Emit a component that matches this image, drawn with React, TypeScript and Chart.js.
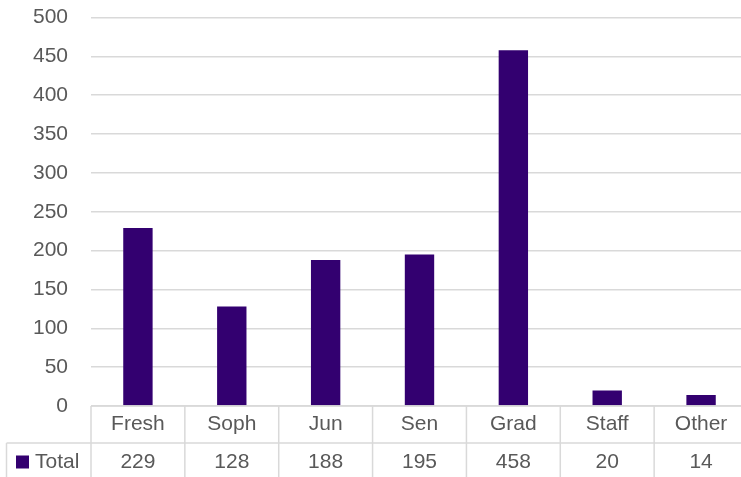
import { useEffect, useRef } from "react";
import { Chart, registerables } from "chart.js";

Chart.register(...registerables);

// Enrollment counts by class standing
const categories = ["Fresh", "Soph", "Jun", "Sen", "Grad", "Staff", "Other"];
const totals = [229, 128, 188, 195, 458, 20, 14];
const seriesName = "Total";

// Value axis range
const yMin = 0;
const yMax = 500;
const yStep = 50;

const FONT = "'Liberation Sans', Arial, sans-serif";
const FONT_SIZE = 21;
const TEXT = "#595959";
const GRID = "#d9d9d9";
const BAR = "#330070";

// Draws the data table (category row + values row with legend key) under the plot
const dataTablePlugin = {
  id: "dataTable",
  afterDraw(chart: any) {
    const { ctx, chartArea, scales } = chart;
    const x = scales.x;
    const n = categories.length;
    const w = (chartArea.right - chartArea.left) / n;
    const top = chartArea.bottom;
    const rowH = 37;
    const mid = top + rowH;
    const bottom = chart.height;
    const labelLeft = 6.5;

    ctx.save();
    ctx.strokeStyle = GRID;
    ctx.lineWidth = 1.5;
    ctx.beginPath();
    ctx.moveTo(chartArea.left, top);
    ctx.lineTo(chartArea.right, top);
    ctx.moveTo(labelLeft, mid);
    ctx.lineTo(chartArea.right, mid);
    ctx.moveTo(labelLeft, mid);
    ctx.lineTo(labelLeft, bottom);
    for (let i = 0; i <= n; i++) {
      const bx = chartArea.left + i * w;
      ctx.moveTo(bx, top);
      ctx.lineTo(bx, bottom);
    }
    ctx.stroke();

    ctx.fillStyle = TEXT;
    ctx.font = `${FONT_SIZE}px ${FONT}`;
    ctx.textAlign = "center";
    ctx.textBaseline = "middle";
    categories.forEach((c, i) => {
      const cx = x.getPixelForValue(i);
      ctx.fillText(c, cx, top + rowH / 2);
      ctx.fillText(String(totals[i]), cx, mid + 19);
    });

    // legend key for the series row
    ctx.fillStyle = BAR;
    ctx.fillRect(16, mid + 12.5, 13, 13);
    ctx.fillStyle = TEXT;
    ctx.textAlign = "left";
    ctx.fillText(seriesName, 35, mid + 19);
    ctx.restore();
  },
};

export default function App() {
  const ref = useRef<HTMLCanvasElement | null>(null);

  useEffect(() => {
    if (!ref.current) return;
    const chart = new Chart(ref.current, {
      type: "bar",
      data: {
        labels: categories,
        datasets: [
          {
            label: seriesName,
            data: totals,
            backgroundColor: BAR,
            barPercentage: 0.313,
            categoryPercentage: 1,
          },
        ],
      },
      options: {
        responsive: false,
        animation: false,
        devicePixelRatio: 1,
        layout: { padding: { top: 17.5, bottom: 71, left: 0, right: 0 } },
        plugins: {
          legend: { display: false },
          tooltip: { enabled: false },
        },
        scales: {
          x: {
            grid: { display: false },
            border: { display: false },
            ticks: { display: false },
            afterFit(scale: any) {
              scale.height = 0;
              scale.paddingLeft = 0;
              scale.paddingRight = 0;
            },
          },
          y: {
            min: yMin,
            max: yMax,
            ticks: {
              stepSize: yStep,
              color: TEXT,
              font: { family: FONT, size: FONT_SIZE },
              padding: 23,
            },
            grid: { color: GRID, lineWidth: 1.5, drawTicks: false },
            border: { display: false },
            afterFit(scale: any) {
              scale.width = 91;
              scale.paddingTop = 0;
              scale.paddingBottom = 0;
            },
          },
        },
      },
      plugins: [dataTablePlugin],
    });
    return () => chart.destroy();
  }, []);

  return (
    <div
      style={{
        position: "fixed",
        left: 0,
        top: 0,
        width: 741,
        height: 477,
        overflow: "hidden",
        background: "#ffffff",
      }}
    >
      <canvas ref={ref} width={748} height={477} style={{ display: "block", width: 748, height: 477 }} />
    </div>
  );
}
